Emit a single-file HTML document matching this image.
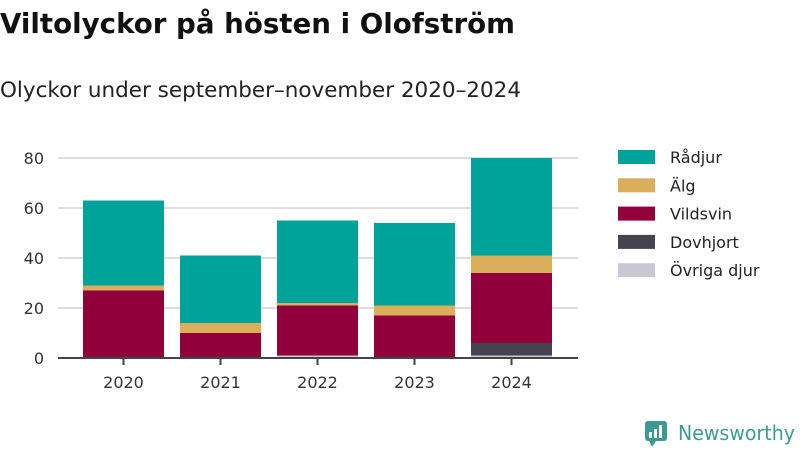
<!DOCTYPE html>
<html><head><meta charset="utf-8"><style>
body{margin:0;width:800px;height:450px;background:#fff;font-family:"Liberation Sans","DejaVu Sans",sans-serif;overflow:hidden}
svg{position:absolute;left:0;top:0}
</style></head><body>
<svg width="800" height="450">
<text x="0" y="33" font-size="27.5" font-weight="bold" fill="#111" font-family="DejaVu Sans, sans-serif" textLength="515" lengthAdjust="spacingAndGlyphs">Viltolyckor på hösten i Olofström</text>
<text x="0" y="97" font-size="21" fill="#222" font-family="DejaVu Sans, sans-serif" textLength="521" lengthAdjust="spacingAndGlyphs">Olyckor under september–november 2020–2024</text>
<g id="grid"></g><g id="bars"></g><g id="axes"></g><g id="legend"></g>
<g>
<rect x="645" y="421" width="22" height="20" rx="3" fill="#3d9a93"/>
<path d="M649 441 L652 447 L656 441 Z" fill="#3d9a93"/>
<rect x="649" y="432" width="3" height="6" fill="#fff"/><rect x="654" y="429" width="3" height="9" fill="#fff"/><rect x="659" y="425" width="3" height="13" fill="#fff"/>
<text x="678" y="440" font-size="20" fill="#3d9a93" font-family="DejaVu Sans, sans-serif" textLength="117" lengthAdjust="spacingAndGlyphs">Newsworthy</text>
</g>
</svg>
<script>
const years=["2020","2021","2022","2023","2024"];
const ovriga=[0,0,1,0,1];
const dovhjort=[0,0,0,0,5];
const vildsvin=[27,10,20,17,28];
const alg=[2,4,1,4,7];
const radjur=[34,27,33,33,39];
const yTicks=[0,20,40,60,80];
const seriesNames=["Rådjur","Älg","Vildsvin","Dovhjort","Övriga djur"];
const colors={"Rådjur":"#00a39a","Älg":"#dbae5b","Vildsvin":"#92003b","Dovhjort":"#45434f","Övriga djur":"#cac7d5"};
const NS="http://www.w3.org/2000/svg";
const y=v=>358-v*2.5, xc=i=>123.5+97*i, bw=81;
function mk(t,a,p){const e=document.createElementNS(NS,t);for(const k in a)e.setAttribute(k,a[k]);p.appendChild(e);return e;}
const grid=document.getElementById('grid'),bars=document.getElementById('bars'),axes=document.getElementById('axes'),leg=document.getElementById('legend');
yTicks.forEach(t=>{
 if(t>0){const l=mk('line',{x1:58,x2:578,y1:y(t),y2:y(t),stroke:'#dddddd','stroke-width':2},grid);
 
 }
 const tx=mk('text',{x:44,y:y(t)+6,'font-size':16,fill:'#333','text-anchor':'end','font-family':'DejaVu Sans, sans-serif'},axes);tx.textContent=t;
 
 
});
const stack=[["Övriga djur",ovriga],["Dovhjort",dovhjort],["Vildsvin",vildsvin],["Älg",alg],["Rådjur",radjur]];
years.forEach((yr,i)=>{
 let base=0;
 stack.forEach(([n,arr])=>{const v=arr[i];if(v>0){const r=mk('rect',{x:xc(i)-bw/2,y:y(base+v),width:bw,height:v*2.5,fill:colors[n]},bars);
 
 }base+=v;});
 const tk=mk('line',{x1:xc(i),x2:xc(i),y1:358,y2:365,stroke:'#444','stroke-width':2},axes);
 
 
 const tx=mk('text',{x:xc(i),y:388,'font-size':16,fill:'#333','text-anchor':'middle','font-family':'DejaVu Sans, sans-serif'},axes);tx.textContent=yr;
 
 
});
const ax=mk('line',{x1:58,x2:578,y1:358,y2:358,stroke:'#444','stroke-width':2},axes);


seriesNames.forEach((n,i)=>{
 const cy=157+28.3*i;
 const g=mk('g',{},leg);
 
 
 mk('rect',{x:618,y:cy-7,width:37,height:14,fill:colors[n]},g);
 const t=mk('text',{x:670,y:cy+6,'font-size':16,fill:'#222','font-family':'DejaVu Sans, sans-serif'},g);t.textContent=n;
});
</script>
</body></html>
